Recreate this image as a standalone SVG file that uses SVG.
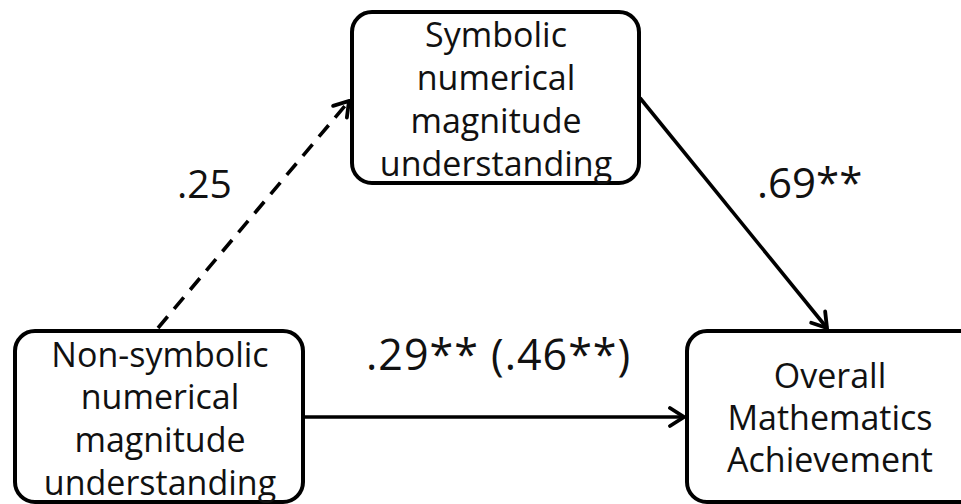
<svg xmlns="http://www.w3.org/2000/svg" width="961" height="504" viewBox="0 0 961 504">
<style>
.box{fill:#fff;stroke:#000;stroke-width:4}
.t{font-family:"Open Sans","Liberation Sans",sans-serif;font-size:34px;fill:#111;text-anchor:middle}
.lbl{font-family:"Open Sans","Liberation Sans",sans-serif;font-size:42px;fill:#111}
.c{stroke:#000;stroke-width:3.6;fill:none}
.dash{stroke-dasharray:15 10}
</style>
<defs>
<marker id="arr" markerUnits="userSpaceOnUse" viewBox="-18 -12 20 24" refX="0" refY="0" markerWidth="20" markerHeight="24" orient="auto">
<path d="M-14,-9 L0,0 L-14,9" fill="none" stroke="#000" stroke-width="3.8" stroke-linecap="round" stroke-linejoin="miter"/>
</marker>
</defs>
<g id="connectors">
<line class="c dash" x1="158" y1="328" x2="349" y2="101" marker-end="url(#arr)"/>
<line class="c" x1="640" y1="98" x2="827" y2="328" marker-end="url(#arr)"/>
<line class="c" x1="303" y1="417" x2="684" y2="417" marker-end="url(#arr)"/>
</g>
<g id="node-symbolic">
<rect class="box" x="352" y="12" width="287" height="171" rx="20"/>
<text class="t" x="496" y="47">Symbolic</text>
<text class="t" x="496" y="90">numerical</text>
<text class="t" x="496" y="133">magnitude</text>
<text class="t" x="496" y="176">understanding</text>
</g>
<g id="node-nonsymbolic">
<rect class="box" x="15" y="331" width="288" height="171" rx="20"/>
<text class="t" x="160" y="367">Non-symbolic</text>
<text class="t" x="160" y="409">numerical</text>
<text class="t" x="160" y="452">magnitude</text>
<text class="t" x="160" y="495">understanding</text>
</g>
<g id="node-math">
<rect class="box" x="687" y="331" width="300" height="171" rx="20"/>
<text class="t" x="830" y="388">Overall</text>
<text class="t" x="830" y="430">Mathematics</text>
<text class="t" x="830" y="472">Achievement</text>
</g>
<g id="labels">
<text class="lbl" x="177" y="198" style="font-size:39px">.25</text>
<text class="lbl" x="757" y="198">.69**</text>
<text class="lbl" x="366" y="370" style="font-size:43px;letter-spacing:1px">.29** (.46**)</text>
</g>
</svg>
